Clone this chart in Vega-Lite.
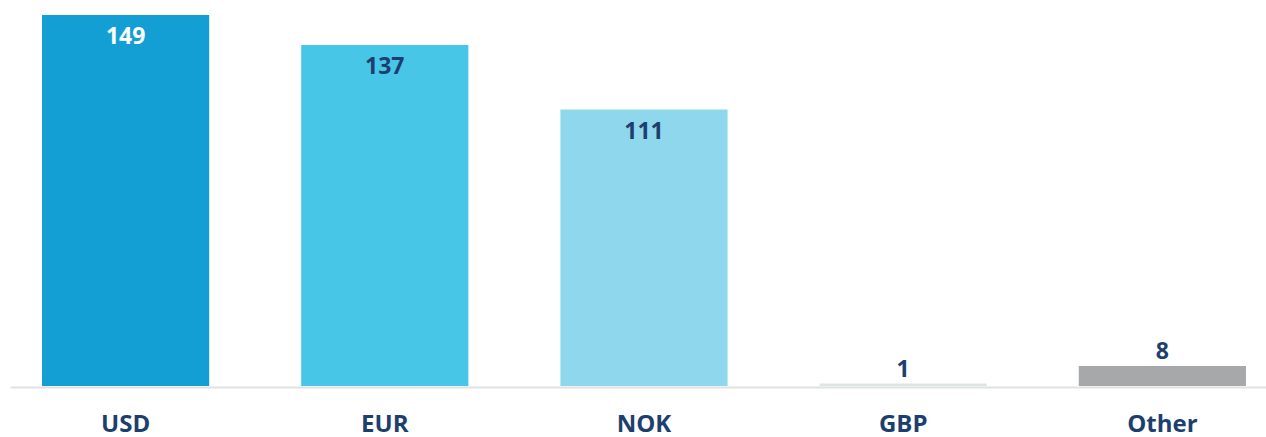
{
  "$schema": "https://vega.github.io/schema/vega-lite/v6.json",
  "width": 1256,
  "height": 371,
  "autosize": {"type": "none"},
  "padding": {"left": 10, "top": 15, "right": 0, "bottom": 51},
  "background": "white",
  "config": {"view": {"stroke": null}, "font": "Open Sans"},
  "data": {"values": [
    {"currency": "USD", "value": 149},
    {"currency": "EUR", "value": 137},
    {"currency": "NOK", "value": 111},
    {"currency": "GBP", "value": 1},
    {"currency": "Other", "value": 8}
  ]},
  "encoding": {
    "x": {"field": "currency", "type": "nominal", "sort": null,
      "scale": {"paddingInner": 0.355, "paddingOuter": 0.1004, "align": 0.615},
      "axis": {"title": null, "labelAngle": 0, "ticks": false, "domainColor": "#e0e2e2", "domainWidth": 2, "offset": 1,
        "labelFont": "Open Sans", "labelFontWeight": "bold", "labelFontSize": 24, "labelColor": "#1c3f6e",
        "labelPadding": 37, "labelBaseline": "middle"}},
    "y": {"field": "value", "type": "quantitative", "scale": {"domain": [0, 149], "nice": false}, "axis": null}
  },
  "layer": [
    {"mark": {"type": "bar"},
     "encoding": {"color": {"field": "currency", "type": "nominal", "legend": null,
       "scale": {"domain": ["USD", "EUR", "NOK", "GBP", "Other"], "range": ["#149fd4", "#48c6e8", "#8fd7ec", "#dde6e4", "#a6a8a9"]}}}},
    {"transform": [{"filter": "datum.value > 50"}],
     "mark": {"type": "text", "baseline": "middle", "dy": 22, "fontSize": 23, "fontWeight": "bold", "font": "Open Sans"},
     "encoding": {"text": {"field": "value"},
       "color": {"condition": {"test": "datum.currency === 'USD'", "value": "white"}, "value": "#1c3f6e"}}},
    {"transform": [{"filter": "datum.value <= 50"}],
     "mark": {"type": "text", "baseline": "middle", "dy": -14, "fontSize": 23, "fontWeight": "bold", "font": "Open Sans", "color": "#1c3f6e"},
     "encoding": {"text": {"field": "value"}}}
  ]
}
